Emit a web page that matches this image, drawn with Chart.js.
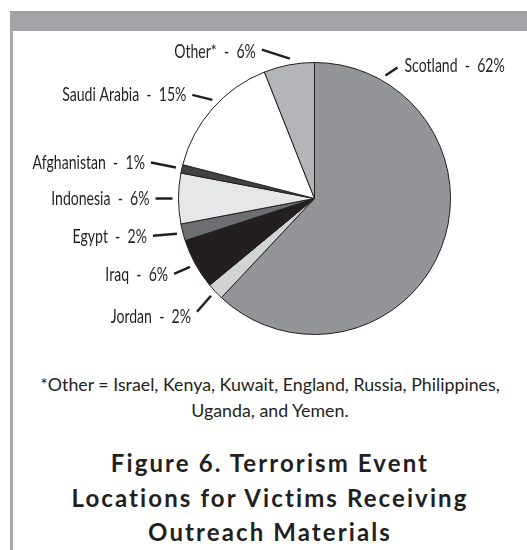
<!DOCTYPE html>
<html>
<head>
<meta charset="utf-8">
<script src="https://cdn.jsdelivr.net/npm/chart.js@4"></script>
<style>
  html, body { margin: 0; padding: 0; background: #fff; }
  body { width: 527px; height: 550px; position: relative; overflow: hidden; font-family: Lato, "Open Sans", sans-serif; color: #231f20; }
  #band { position: absolute; left: 10px; top: 11px; width: 517px; height: 20px; background: #a2a3a6; }
  #edge { position: absolute; left: 10px; top: 31px; width: 3px; height: 519px; background: #a7a9ac; }
  #chart_box { position: absolute; left: 0; top: 0; width: 527px; height: 360px; }
  #note { position: absolute; left: 13px; width: 514px; top: 371px; text-align: center; font-size: 17.8px; line-height: 26px; }
  #title { position: absolute; left: 13px; width: 514px; top: 446px; text-align: center; font-size: 24px; font-weight: 700; line-height: 34.5px; letter-spacing: 2.1px; }
</style>
</head>
<body>
<div id="band"></div>
<div id="edge"></div>
<div id="chart_box"><canvas id="pie_chart" width="527" height="360"></canvas></div>
<div id="note">*Other = Israel, Kenya, Kuwait, England, Russia, Philippines,<br>Uganda, and Yemen.</div>
<div id="title">Figure 6. Terrorism Event<br>Locations for Victims Receiving<br>Outreach Materials</div>
<script>
const locations = ['Scotland', 'Jordan', 'Iraq', 'Egypt', 'Indonesia', 'Afghanistan', 'Saudi Arabia', 'Other*'];
const percents = [62, 2, 6, 2, 6, 1, 15, 6];
const slice_colors = ['#939598', '#d1d3d4', '#231f20', '#6d6e71', '#e6e7e8', '#414042', '#ffffff', '#b3b5b8'];

// where each callout sits: angle (deg from top, clockwise) overrides the slice middle,
// vec is the leader line, ty nudges the text vertically
const callouts = [
  {angle: 30, vec: [12, -8], ty: -2},
  {vec: [-14, 16], ty: 5},
  {vec: [-16, 7], ty: 1},
  {vec: [-24, 2], ty: 1},
  {vec: [-17, 0], ty: 0},
  {vec: [-25, -5], ty: 0},
  {angle: 314, vec: [-20, -5], ty: 0},
  {angle: 350, vec: [-28, -9], ty: 2}
];

const calloutPlugin = {
  id: 'callouts',
  afterDatasetsDraw: function(chart) {
    const ctx = chart.ctx;
    const meta = chart.getDatasetMeta(0);
    ctx.save();
    ctx.font = '19px Lato, sans-serif';
    ctx.fillStyle = '#231f20';
    ctx.strokeStyle = '#231f20';
    ctx.lineWidth = 2.5;
    ctx.textBaseline = 'middle';
    meta.data.forEach(function(arc, i) {
      const p = arc.getProps(['x', 'y', 'startAngle', 'endAngle', 'outerRadius'], true);
      const c = callouts[i];
      let a = (p.startAngle + p.endAngle) / 2;
      if (c.angle !== undefined) a = (c.angle - 90) * Math.PI / 180;
      const r0 = p.outerRadius + 6;
      const sx = p.x + r0 * Math.cos(a), sy = p.y + r0 * Math.sin(a);
      const ex = sx + c.vec[0], ey = sy + c.vec[1];
      ctx.beginPath();
      ctx.moveTo(sx, sy);
      ctx.lineTo(ex, ey);
      ctx.stroke();
      const right = c.vec[0] > 0;
      ctx.textAlign = right ? 'left' : 'right';
      const text = locations[i] + '  -  ' + percents[i] + '%';
      // condensed look
      ctx.save();
      ctx.translate(ex + (right ? 7 : -6), ey + c.ty);
      ctx.scale(0.74, 1);
      ctx.fillText(text, 0, 0);
      ctx.restore();
    });
    ctx.restore();
  }
};

new Chart(document.querySelector('#pie_chart').getContext('2d'), {
  type: 'pie',
  data: {
    labels: locations,
    datasets: [{
      data: percents,
      backgroundColor: slice_colors,
      borderColor: '#231f20',
      borderWidth: 1,
      hoverOffset: 0
    }]
  },
  plugins: [calloutPlugin],
  options: {
    responsive: false,
    animation: false,
    layout: { padding: {left: 178, right: 76, top: 62, bottom: 25} },
    plugins: {
      legend: { display: false },
      tooltip: { enabled: false }
    }
  }
});
</script>
</body>
</html>
